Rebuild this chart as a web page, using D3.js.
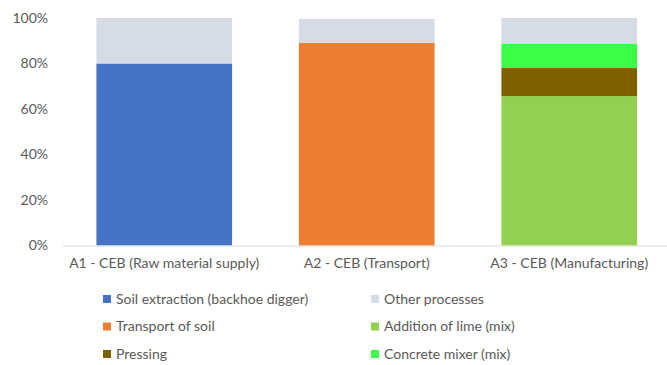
<!DOCTYPE html>
<html>
<head>
<meta charset="utf-8">
<script src="https://cdn.jsdelivr.net/npm/d3@7"></script>
<style>
  body { margin: 0; background: #fff; }
  text { font-family: Lato, "Open Sans", sans-serif; fill: #595959; }
</style>
</head>
<body>
<svg id="chart"></svg>
<script>
// categories
var categories = ["A1 - CEB (Raw material supply)", "A2 - CEB (Transport)", "A3 - CEB (Manufacturing)"]

// series (percent of each bar), stacked from bottom
var seriesNames = ["Soil extraction (backhoe digger)", "Transport of soil", "Addition of lime (mix)", "Pressing", "Concrete mixer (mix)", "Other processes"]
var soilExtraction = [80, 0, 0]
var transportSoil = [0, 89, 0]
var additionLime = [0, 0, 65.7]
var pressing = [0, 0, 12.3]
var concreteMixer = [0, 0, 10.6]
var otherProcesses = [20, 10.6, 11.4]

var yTicks = [0, 20, 40, 60, 80, 100]

// legend order (two columns, row by row)
var legendOrder = ["Soil extraction (backhoe digger)", "Other processes", "Transport of soil", "Addition of lime (mix)", "Pressing", "Concrete mixer (mix)"]

var dimensions = { width: 667, height: 365 }
var margin = { top: 18, left: 63, right: 0, bottom: 119.5 }

var svg = d3.select("#chart")
  .attr("width", dimensions.width)
  .attr("height", dimensions.height)

var color = d3.scaleOrdinal()
  .domain(seriesNames)
  .range(["#4472c4", "#ed7d31", "#92d050", "#7f6000", "#3dff47", "#d6dce5"])

var table = categories.map(function(c, i) {
  return {
    cat: c,
    "Soil extraction (backhoe digger)": soilExtraction[i],
    "Transport of soil": transportSoil[i],
    "Addition of lime (mix)": additionLime[i],
    "Pressing": pressing[i],
    "Concrete mixer (mix)": concreteMixer[i],
    "Other processes": otherProcesses[i]
  }
})

var x = d3.scaleBand()
  .domain(categories)
  .range([margin.left, 670.5])
  .paddingInner(0.33)
  .paddingOuter(0.165)

var y = d3.scaleLinear()
  .domain([0, 100])
  .range([dimensions.height - margin.bottom, margin.top])

// y tick labels
svg.append("g")
  .selectAll("text")
  .data(yTicks)
  .join("text")
  .attr("x", 48)
  .attr("y", d => y(d))
  .attr("dy", "0.35em")
  .attr("text-anchor", "end")
  .style("font-size", "14px")
  .text(d => d + "%")

// stacked bars
var stacked = d3.stack().keys(seriesNames)(table)

svg.append("g")
  .selectAll("g")
  .data(stacked)
  .join("g")
  .attr("fill", d => color(d.key))
  .selectAll("rect")
  .data(d => d)
  .join("rect")
  .attr("x", d => x(d.data.cat))
  .attr("y", d => y(d[1]))
  .attr("width", x.bandwidth())
  .attr("height", d => y(d[0]) - y(d[1]))

// x axis line
svg.append("line")
  .attr("x1", margin.left)
  .attr("x2", dimensions.width)
  .attr("y1", y(0) + 0.5)
  .attr("y2", y(0) + 0.5)
  .attr("stroke", "#d9d9d9")
  .attr("stroke-width", 1)

// category labels
svg.append("g")
  .selectAll("text")
  .data(categories)
  .join("text")
  .attr("x", d => x(d) + x.bandwidth() / 2)
  .attr("y", y(0) + 22)
  .attr("text-anchor", "middle")
  .style("font-size", "14px")
  .text(d => d)

// legend
var legend = svg.append("g")
  .selectAll("g")
  .data(legendOrder)
  .join("g")
  .attr("transform", function(d, i) {
    var col = i % 2, row = Math.floor(i / 2)
    return "translate(" + (col === 0 ? 103 : 371) + "," + (299 + row * 27.5) + ")"
  })

legend.append("rect")
  .attr("x", 0)
  .attr("y", -4)
  .attr("width", 8)
  .attr("height", 8)
  .attr("fill", d => color(d))

legend.append("text")
  .attr("x", 13)
  .attr("y", 0)
  .attr("dy", "0.35em")
  .style("font-size", "14px")
  .text(d => d)
</script>
</body>
</html>
